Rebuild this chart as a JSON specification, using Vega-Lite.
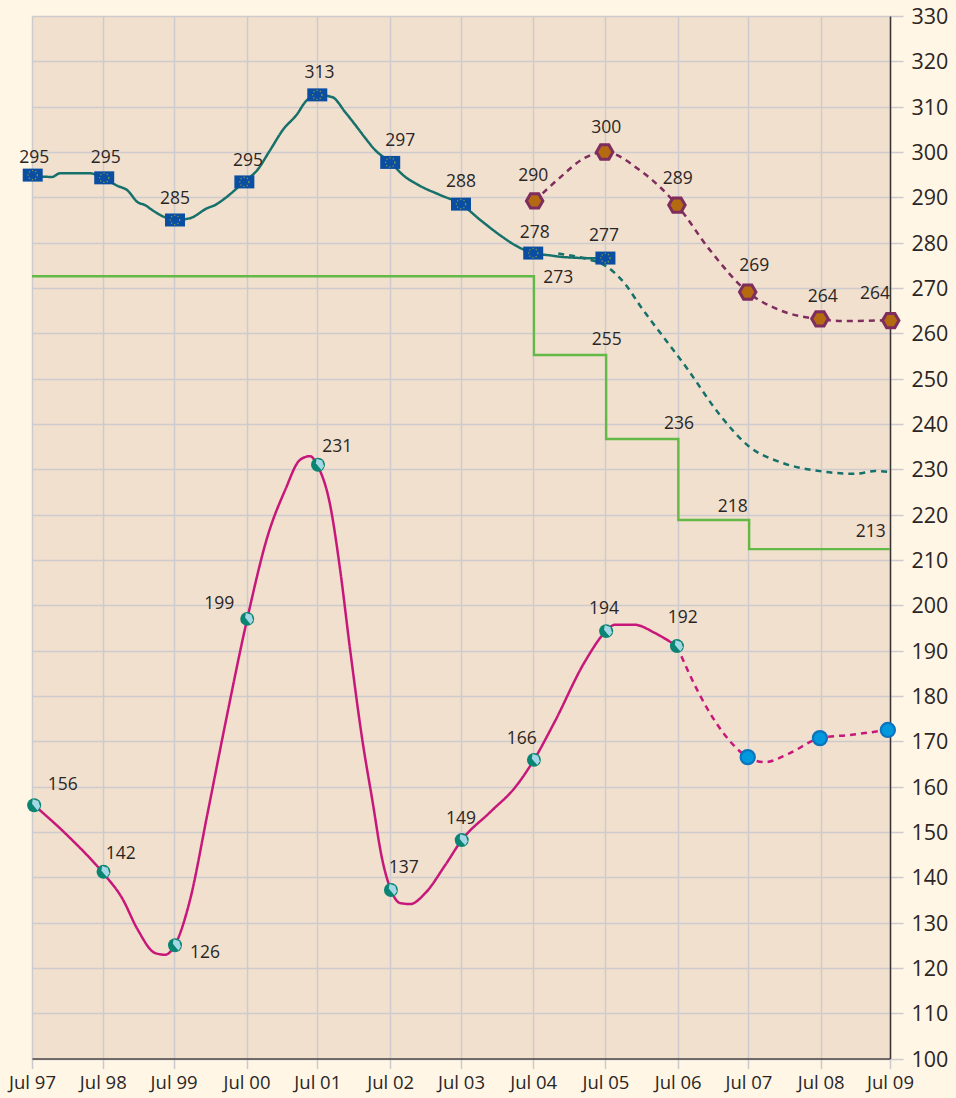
{
"$schema":"https://vega.github.io/schema/vega-lite/v6.json",
"width":858,"height":1042.6,
"autosize":{"type":"none"},
"padding":{"left":32,"top":16,"right":66,"bottom":39},
"background":"#fff6e5",
"config":{"view":{"fill":"#f1e0cd","stroke":null},"font":"Open Sans"},
"datasets":{
"lines":[
{"series":"EU","dash":"solid","x":1997.01,"y":294.7},{"series":"EU","dash":"solid","x":1997.28,"y":294.5},{"series":"EU","dash":"solid","x":1997.39,"y":295.3},{"series":"EU","dash":"solid","x":1997.81,"y":295.3},{"series":"EU","dash":"solid","x":1998.02,"y":294.0},{"series":"EU","dash":"solid","x":1998.2,"y":292.5},{"series":"EU","dash":"solid","x":1998.33,"y":291.6},{"series":"EU","dash":"solid","x":1998.48,"y":288.9},{"series":"EU","dash":"solid","x":1998.58,"y":288.3},{"series":"EU","dash":"solid","x":1998.68,"y":287.2},{"series":"EU","dash":"solid","x":1998.86,"y":285.6},{"series":"EU","dash":"solid","x":1999.0,"y":285.0},{"series":"EU","dash":"solid","x":1999.21,"y":285.4},{"series":"EU","dash":"solid","x":1999.45,"y":287.6},{"series":"EU","dash":"solid","x":1999.56,"y":288.3},{"series":"EU","dash":"solid","x":1999.7,"y":289.8},{"series":"EU","dash":"solid","x":1999.95,"y":293.2},{"series":"EU","dash":"solid","x":2000.15,"y":296.0},{"series":"EU","dash":"solid","x":2000.33,"y":300.4},{"series":"EU","dash":"solid","x":2000.51,"y":304.9},{"series":"EU","dash":"solid","x":2000.71,"y":308.4},{"series":"EU","dash":"solid","x":2000.82,"y":311.0},{"series":"EU","dash":"solid","x":2000.99,"y":312.6},{"series":"EU","dash":"solid","x":2001.2,"y":312.1},{"series":"EU","dash":"solid","x":2001.38,"y":308.8},{"series":"EU","dash":"solid","x":2001.52,"y":306.0},{"series":"EU","dash":"solid","x":2001.66,"y":303.1},{"series":"EU","dash":"solid","x":2001.8,"y":300.4},{"series":"EU","dash":"solid","x":2002.01,"y":297.8},{"series":"EU","dash":"solid","x":2002.19,"y":294.9},{"series":"EU","dash":"solid","x":2002.43,"y":292.5},{"series":"EU","dash":"solid","x":2002.71,"y":290.5},{"series":"EU","dash":"solid","x":2003.0,"y":288.5},{"series":"EU","dash":"solid","x":2003.27,"y":285.0},{"series":"EU","dash":"solid","x":2003.55,"y":281.6},{"series":"EU","dash":"solid","x":2003.76,"y":279.4},{"series":"EU","dash":"solid","x":2004.01,"y":277.7},{"series":"EU","dash":"solid","x":2004.24,"y":277.2},{"series":"EU","dash":"solid","x":2004.45,"y":276.8},{"series":"EU","dash":"solid","x":2005.01,"y":276.5},
{"series":"EU","dash":"dashed","x":2004.36,"y":277.6},{"series":"EU","dash":"dashed","x":2004.73,"y":276.5},{"series":"EU","dash":"dashed","x":2005.01,"y":275},{"series":"EU","dash":"dashed","x":2005.29,"y":271},{"series":"EU","dash":"dashed","x":2005.5,"y":266.2},{"series":"EU","dash":"dashed","x":2006.16,"y":252.3},{"series":"EU","dash":"dashed","x":2006.62,"y":242},{"series":"EU","dash":"dashed","x":2007.04,"y":234.9},{"series":"EU","dash":"dashed","x":2007.46,"y":231.6},{"series":"EU","dash":"dashed","x":2008.02,"y":229.6},{"series":"EU","dash":"dashed","x":2008.51,"y":229},{"series":"EU","dash":"dashed","x":2008.79,"y":229.6},{"series":"EU","dash":"dashed","x":2009,"y":229.4},
{"series":"Hex","dash":"dashed","x":2004.03,"y":289.2},{"series":"Hex","dash":"dashed","x":2004.38,"y":294.3},{"series":"Hex","dash":"dashed","x":2004.73,"y":298.7},{"series":"Hex","dash":"dashed","x":2005.01,"y":300},{"series":"Hex","dash":"dashed","x":2005.5,"y":296},{"series":"Hex","dash":"dashed","x":2006.02,"y":288.3},{"series":"Hex","dash":"dashed","x":2006.48,"y":278.4},{"series":"Hex","dash":"dashed","x":2007.01,"y":269.1},{"series":"Hex","dash":"dashed","x":2007.46,"y":265.1},{"series":"Hex","dash":"dashed","x":2008.02,"y":263.1},{"series":"Hex","dash":"dashed","x":2008.37,"y":262.7},{"series":"Hex","dash":"dashed","x":2009,"y":262.9},
{"series":"World","dash":"solid","x":1997.03,"y":155.9},{"series":"World","dash":"solid","x":1997.53,"y":148.7},{"series":"World","dash":"solid","x":1997.99,"y":141},{"series":"World","dash":"solid","x":1998.26,"y":135.4},{"series":"World","dash":"solid","x":1998.48,"y":128.4},{"series":"World","dash":"solid","x":1998.72,"y":123.3},{"series":"World","dash":"solid","x":1998.86,"y":122.9},{"series":"World","dash":"solid","x":1999,"y":125.1},{"series":"World","dash":"solid","x":1999.21,"y":135},{"series":"World","dash":"solid","x":1999.45,"y":153.7},{"series":"World","dash":"solid","x":1999.7,"y":173.6},{"series":"World","dash":"solid","x":2000.01,"y":197},{"series":"World","dash":"solid","x":2000.3,"y":215.5},{"series":"World","dash":"solid","x":2000.54,"y":225.4},{"series":"World","dash":"solid","x":2000.75,"y":232.1},{"series":"World","dash":"solid","x":2000.89,"y":232.9},{"series":"World","dash":"solid","x":2000.99,"y":230.9},{"series":"World","dash":"solid","x":2001.17,"y":222.1},{"series":"World","dash":"solid","x":2001.31,"y":207.8},{"series":"World","dash":"solid","x":2001.45,"y":190.1},{"series":"World","dash":"solid","x":2001.62,"y":170.3},{"series":"World","dash":"solid","x":2001.76,"y":157},{"series":"World","dash":"solid","x":2001.9,"y":143.8},{"series":"World","dash":"solid","x":2002.02,"y":137.2},{"series":"World","dash":"solid","x":2002.15,"y":134.3},{"series":"World","dash":"solid","x":2002.29,"y":134.1},{"series":"World","dash":"solid","x":2002.5,"y":136.5},{"series":"World","dash":"solid","x":2002.78,"y":142.7},{"series":"World","dash":"solid","x":2003.01,"y":148.2},{"series":"World","dash":"solid","x":2003.41,"y":154.4},{"series":"World","dash":"solid","x":2003.76,"y":159.9},{"series":"World","dash":"solid","x":2004.02,"y":165.9},{"series":"World","dash":"solid","x":2004.31,"y":174.3},{"series":"World","dash":"solid","x":2004.73,"y":187.5},{"series":"World","dash":"solid","x":2005.03,"y":194.3},{"series":"World","dash":"solid","x":2005.15,"y":195.7},{"series":"World","dash":"solid","x":2005.43,"y":195.7},{"series":"World","dash":"solid","x":2005.71,"y":193.9},{"series":"World","dash":"solid","x":2006.02,"y":191},
{"series":"World","dash":"dashed","x":2006.02,"y":191},{"series":"World","dash":"dashed","x":2006.34,"y":180.2},{"series":"World","dash":"dashed","x":2006.69,"y":171.4},{"series":"World","dash":"dashed","x":2007.01,"y":166.5},{"series":"World","dash":"dashed","x":2007.25,"y":165.4},{"series":"World","dash":"dashed","x":2007.6,"y":167.4},{"series":"World","dash":"dashed","x":2008.02,"y":170.7},{"series":"World","dash":"dashed","x":2008.44,"y":171.4},{"series":"World","dash":"dashed","x":2008.97,"y":172.5}
],
"steps":[{"x":1997,"y":272.6},{"x":2004.02,"y":255.2},{"x":2005.03,"y":236.7},{"x":2006.04,"y":218.8},{"x":2007.03,"y":212.4},{"x":2009,"y":212.4}],
"eu":[{"x":1997.01,"y":294.9},{"x":1998.01,"y":294.3},{"x":1999,"y":285},{"x":1999.97,"y":293.4},{"x":2000.99,"y":312.6},{"x":2002.01,"y":297.7},{"x":2003,"y":288.5},{"x":2004.01,"y":277.7},{"x":2005.02,"y":276.6}],
"hex":[{"x":2004.03,"y":289.2},{"x":2005.01,"y":300},{"x":2006.02,"y":288.3},{"x":2007.01,"y":269.1},{"x":2008.02,"y":263.2},{"x":2009.01,"y":262.8}],
"globe":[{"x":1997.03,"y":155.9},{"x":1998,"y":141.2},{"x":1999,"y":125},{"x":2000.01,"y":197},{"x":2001,"y":231},{"x":2002.02,"y":137.2},{"x":2003.01,"y":148.2},{"x":2004.02,"y":165.9},{"x":2005.03,"y":194.3},{"x":2006.02,"y":191}],
"blue":[{"x":2007.01,"y":166.5},{"x":2008.02,"y":170.7},{"x":2008.97,"y":172.5}],
"labels":[{"t":"295","x":1997.03,"y":298.7},{"t":"295","x":1998.03,"y":298.7},{"t":"285","x":1999,"y":289.6},{"t":"295","x":2000.02,"y":298},{"t":"313","x":2001.02,"y":317.4},{"t":"297","x":2002.15,"y":302.4},{"t":"288","x":2003,"y":293.4},{"t":"278","x":2004.03,"y":282.1},{"t":"277","x":2005,"y":281.4},{"t":"273","x":2004.36,"y":272.2},{"t":"290","x":2004.01,"y":294.7},{"t":"300","x":2005.03,"y":305.3},{"t":"289","x":2006.03,"y":294.1},{"t":"269","x":2007.1,"y":274.9},{"t":"264","x":2008.06,"y":268},{"t":"264","x":2008.79,"y":268.7},{"t":"255","x":2005.04,"y":258.5},{"t":"236","x":2006.05,"y":240},{"t":"218","x":2006.8,"y":221.7},{"t":"213","x":2008.73,"y":216.2},{"t":"156","x":1997.43,"y":160.4},{"t":"142","x":1998.24,"y":145.2},{"t":"126","x":1999.42,"y":123.3},{"t":"199","x":1999.62,"y":200.3},{"t":"231","x":2001.27,"y":234.9},{"t":"137","x":2002.2,"y":142.1},{"t":"149","x":2003,"y":152.9},{"t":"166","x":2003.85,"y":170.5},{"t":"194","x":2005,"y":199.2},{"t":"192","x":2006.1,"y":197.2}]
},
"encoding":{
"x":{"field":"x","type":"quantitative","title":null,"scale":{"domain":[1997,2009],"nice":false,"zero":false},
"axis":{"values":[1997,1997.99,1998.98,2000,2000.99,2002.01,2003,2004.01,2005.02,2006.03,2007.02,2008.03,2009],"labelExpr":"'Jul ' + slice(toString(round(datum.value)),2)","labelFont":"Open Sans","labelFontSize":18.5,"labelColor":"#2b2626","labelOverlap":false,"labelFlush":false,"labelPadding":5,"tickSize":10,"tickColor":"#c9c8cc","tickWidth":1.5,"domainColor":"#4a4444","domainWidth":1.5,"grid":true,"gridColor":"#cdcbcd","gridWidth":1.5}},
"y":{"field":"y","type":"quantitative","title":null,"scale":{"domain":[100,330],"nice":false,"zero":false},
"axis":{"orient":"right","values":[100,110,120,130,140,150,160,170,180,190,200,210,220,230,240,250,260,270,280,290,300,310,320,330],"labelFont":"Open Sans","labelFontSize":21.5,"labelColor":"#2b2626","labelOverlap":false,"labelFlush":false,"labelPadding":8,"labelOffset":1.5,"tickSize":13,"tickColor":"#cdcbcd","tickWidth":1.5,"domainColor":"#3a3535","domainWidth":1.5,"grid":true,"gridColor":"#cdcbcd","gridWidth":1.5}}
},
"layer":[
{"data":{"name":"steps"},"mark":{"type":"line","interpolate":"step-after","color":"#63b946","strokeWidth":2.4}},
{"data":{"name":"lines"},"mark":{"type":"line","interpolate":"monotone","strokeWidth":2.5},
"encoding":{
"color":{"field":"series","type":"nominal","legend":null,"scale":{"domain":["EU","Hex","World"],"range":["#16706b","#7e2d5e","#c8177a"]}},
"strokeDash":{"field":"dash","type":"nominal","legend":null,"scale":{"domain":["solid","dashed"],"range":[[1,0],[6,5]]}}}},
{"data":{"name":"eu"},"mark":{"type":"point","shape":"M-1,-0.65H1V0.65H-1Z","size":400,"filled":true,"fill":"#0a4ea2","opacity":1,"strokeWidth":0}},
{"data":{"name":"eu"},"mark":{"type":"point","shape":"circle","size":85,"filled":false,"stroke":"#8f9c45","strokeWidth":1.2,"strokeDash":[1.2,2.2],"opacity":1}},
{"data":{"name":"hex"},"mark":{"type":"point","shape":"M-1,0L-0.5,-0.87L0.5,-0.87L1,0L0.5,0.87L-0.5,0.87Z","size":270,"filled":true,"fill":"#b36a10","stroke":"#7e2d5e","strokeWidth":3,"opacity":1}},
{"data":{"name":"globe"},"mark":{"type":"point","shape":"circle","size":195,"filled":true,"fill":"#0b8573","opacity":1,"strokeWidth":0}},
{"data":{"name":"globe"},"mark":{"type":"point","shape":"M-0.2,-0.85L0.6,-0.6L0.85,0.2L0.5,0.75L0.1,0.3L-0.3,-0.2Z","size":195,"filled":true,"fill":"#a5d8e6","opacity":1,"strokeWidth":0}},
{"data":{"name":"blue"},"mark":{"type":"point","shape":"circle","size":200,"filled":true,"fill":"#0099dd","stroke":"#0a74bd","strokeWidth":2.2,"opacity":1}},
{"data":{"name":"labels"},"mark":{"type":"text","font":"Open Sans","fontSize":17.5,"color":"#2b2626","align":"center","baseline":"middle"},"encoding":{"text":{"field":"t","type":"nominal"}}}
]
}
